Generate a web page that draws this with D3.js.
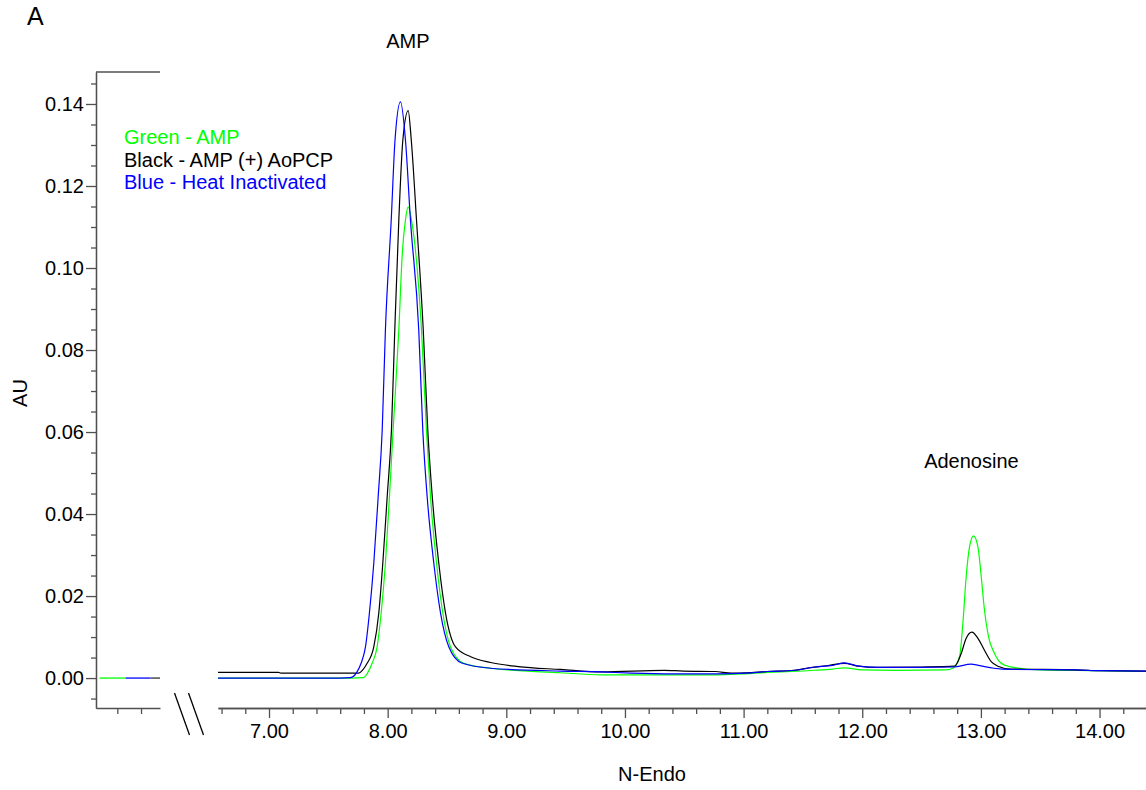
<!DOCTYPE html>
<html><head><meta charset="utf-8">
<script src="https://cdn.jsdelivr.net/npm/d3@7"></script>
<style>
body{margin:0;background:#fff;}
text{font-family:"Liberation Sans",Arial,sans-serif;}
</style>
</head><body>
<svg id="chart" width="1146" height="790"></svg>
<script>
// ---------- DATA ----------
const xMajorTicks = [7, 8, 9, 10, 11, 12, 13, 14];
const yMajorTicks = [0.00, 0.02, 0.04, 0.06, 0.08, 0.10, 0.12, 0.14];
const legendLabels = ["Green - AMP", "Black - AMP (+) AoPCP", "Blue - Heat Inactivated"];
const peakLabels = [["AMP", 8.17, 0.1537], ["Adenosine", 12.92, 0.0512]];
const xTitle = "N-Endo";
const yTitle = "AU";
const panelLetter = "A";

// [time (min), AU]
const greenSeries = [
  [6.57,0.0000],[7.70,0.0000],[7.796,0.0001],[7.83,0.0012],[7.869,0.0036],[7.911,0.0076],
  [7.945,0.0158],[7.981,0.0280],[8.015,0.0442],[8.046,0.0605],[8.094,0.0849],[8.122,0.1028],
  [8.150,0.1117],[8.173,0.1149],[8.201,0.1117],[8.285,0.0849],[8.327,0.0605],[8.361,0.0442],
  [8.412,0.0280],[8.465,0.0158],[8.530,0.0076],[8.642,0.0036],[8.867,0.0024],[9.458,0.0013],
  [9.80,0.0008],[10.80,0.0008],[11.0,0.0010],[11.2,0.0014],[11.4,0.0016],[11.6,0.0019],
  [11.75,0.0022],[11.85,0.0025],[12.0,0.0020],[12.28,0.0019],[12.70,0.0020],[12.764,0.0024],
  [12.82,0.0052],[12.848,0.0133],[12.876,0.0247],[12.904,0.0320],[12.938,0.0347],[12.975,0.0320],
  [13.003,0.0247],[13.030,0.0166],[13.064,0.0101],[13.115,0.0060],[13.171,0.0036],[13.241,0.0028],
  [13.5,0.0020],[14.0,0.0018],[14.4,0.0016]
];
const blackSeries = [
  [6.57,0.0014],[7.08,0.0014],[7.10,0.0012],[7.70,0.0012],[7.756,0.0012],[7.79,0.0020],
  [7.827,0.0036],[7.883,0.0076],[7.925,0.0158],[7.959,0.0280],[7.996,0.0442],[8.032,0.0605],
  [8.060,0.0849],[8.094,0.1117],[8.128,0.1312],[8.173,0.1384],[8.199,0.1312],[8.243,0.1117],
  [8.300,0.0849],[8.338,0.0605],[8.376,0.0442],[8.431,0.0280],[8.488,0.0158],[8.572,0.0076],
  [8.70,0.0052],[8.867,0.0038],[9.10,0.0028],[9.458,0.0021],[9.80,0.0015],[10.33,0.0019],
  [10.49,0.0017],[10.76,0.0016],[10.9,0.0012],[11.02,0.0013],[11.2,0.0016],[11.43,0.0019],
  [11.55,0.0025],[11.7,0.0030],[11.85,0.0036],[11.97,0.0029],[12.13,0.0026],[12.5,0.0027],
  [12.777,0.0029],[12.834,0.0060],[12.876,0.0097],[12.924,0.0112],[12.975,0.0097],[13.030,0.0068],
  [13.087,0.0040],[13.143,0.0029],[13.25,0.0022],[13.8,0.0020],[14.0,0.0018],[14.4,0.0017]
];
const blueSeries = [
  [6.57,0.0000],[7.60,0.0000],[7.686,0.0001],[7.742,0.0015],[7.776,0.0036],[7.813,0.0076],
  [7.846,0.0158],[7.883,0.0280],[7.920,0.0442],[7.954,0.0605],[7.981,0.0849],[8.030,0.1117],
  [8.062,0.1312],[8.108,0.1405],[8.150,0.1312],[8.192,0.1117],[8.262,0.0849],[8.296,0.0605],
  [8.333,0.0442],[8.389,0.0280],[8.446,0.0158],[8.516,0.0076],[8.629,0.0036],[8.867,0.0024],
  [9.458,0.0017],[9.80,0.0015],[10.05,0.0012],[10.40,0.0010],[10.78,0.0010],[11.02,0.0012],
  [11.2,0.0016],[11.43,0.0019],[11.6,0.0027],[11.75,0.0031],[11.85,0.0037],[11.97,0.0029],
  [12.13,0.0026],[12.50,0.0026],[12.77,0.0027],[12.918,0.0034],[12.98,0.0031],[13.11,0.0024],
  [13.25,0.0021],[13.8,0.0020],[14.0,0.0018],[14.4,0.0017]
];
// left (pre-break) segment traces
const leftGreen = [[0.05,0.0],[0.27,0.0]];
const leftBlue  = [[0.27,0.0],[0.48,0.0]];
const leftBlack = [[0.48,0.0],[0.56,0.0]];
const leftTicks = [0.2, 0.4];

const seriesColors = ["#00ff00", "#000000", "#0000ff"];

// ---------- DRAW ----------
const svg = d3.select("#chart");
const axisColor = "#505050";
const fs = 20;

const x = d3.scaleLinear().domain([6.57, 14.40]).range([218, 1147]);
const xL = d3.scaleLinear().domain([0.02, 0.56]).range([96, 160]);
const y = d3.scaleLinear().domain([-0.0073, 0.1478]).range([708, 72]);

// Y axis
const yMinor = d3.range(-0.005, 0.1451, 0.005).map(v => +v.toFixed(3))
  .filter(v => !yMajorTicks.some(m => Math.abs(m - v) < 1e-6));
const gyMinor = svg.append("g").attr("transform", "translate(96,0)")
  .call(d3.axisLeft(y).tickValues(yMinor).tickSize(5).tickSizeOuter(0).tickFormat(""));
const gy = svg.append("g").attr("transform", "translate(96,0)")
  .call(d3.axisLeft(y).tickValues(yMajorTicks).tickSize(10).tickSizeOuter(0).tickPadding(2).tickFormat(d3.format(".2f")));
[gy, gyMinor].forEach(g => {
  g.selectAll("path,line").attr("stroke", axisColor).attr("stroke-width", 1.3);
  g.selectAll("text").attr("font-size", fs).attr("fill", "#000")
    .style("font-family", '"Liberation Sans",Arial,sans-serif');
});
// top frame stub
svg.append("line").attr("x1", xL.range()[0]).attr("x2", xL.range()[1])
  .attr("y1", y.range()[1]).attr("y2", y.range()[1])
  .attr("stroke", axisColor).attr("stroke-width", 1.3);

// X axis (right segment)
const xMinor = d3.range(6.6, 14.41, 0.2).map(v => +v.toFixed(1))
  .filter(v => !xMajorTicks.some(m => Math.abs(m - v) < 1e-6));
const axisY = 708;
const gxMinor = svg.append("g").attr("transform", `translate(0,${axisY})`)
  .call(d3.axisBottom(x).tickValues(xMinor).tickSize(6).tickSizeOuter(0).tickFormat(""));
const gx = svg.append("g").attr("transform", `translate(0,${axisY})`)
  .call(d3.axisBottom(x).tickValues(xMajorTicks).tickSize(10).tickSizeOuter(0).tickPadding(6).tickFormat(d3.format(".2f")));
// X axis (left segment)
const gxL = svg.append("g").attr("transform", `translate(0,${axisY})`)
  .call(d3.axisBottom(xL).tickValues(leftTicks).tickSize(6).tickSizeOuter(0).tickFormat(""));
[gx, gxMinor, gxL].forEach(g => {
  g.selectAll("path,line").attr("stroke", axisColor).attr("stroke-width", 1.3);
  g.selectAll("text").attr("font-size", fs).attr("fill", "#000")
    .style("font-family", '"Liberation Sans",Arial,sans-serif');
});

// break marks
[0, 14].forEach(dx => {
  svg.append("line").attr("x1", 174.5 + dx).attr("y1", 693).attr("x2", 189.5 + dx).attr("y2", 735)
    .attr("stroke", "#000").attr("stroke-width", 1.3);
});

// traces
const line = d3.line().x(d => x(d[0])).y(d => y(d[1])).curve(d3.curveMonotoneX);
const lineL = d3.line().x(d => xL(d[0])).y(d => y(d[1]));
svg.append("clipPath").attr("id", "plotclip").append("rect")
  .attr("x", 218).attr("y", 60).attr("width", 930).attr("height", 648);
const plot = svg.append("g").attr("clip-path", "url(#plotclip)");
[greenSeries, blackSeries, blueSeries].forEach((s, i) => {
  plot.append("path").datum(s).attr("d", line).attr("fill", "none")
    .attr("stroke", seriesColors[i]).attr("stroke-width", 1.2).attr("stroke-linejoin", "round");
});
[leftGreen, leftBlack, leftBlue].forEach((s, i) => {
  const c = [seriesColors[0], "#303030", seriesColors[2]][i];
  svg.append("path").datum(s).attr("d", lineL).attr("fill", "none")
    .attr("stroke", c).attr("stroke-width", 1.3);
});

// legend
legendLabels.forEach((t, i) => {
  svg.append("text").attr("x", 124).attr("y", 144 + i * 22.6)
    .attr("font-size", fs).attr("fill", seriesColors[i]).text(t);
});

// peak labels
peakLabels.forEach(p => {
  svg.append("text").attr("x", x(p[1])).attr("y", y(p[2]))
    .attr("text-anchor", "middle").attr("font-size", fs).attr("fill", "#000").text(p[0]);
});

// titles
svg.append("text").attr("x", 652).attr("y", 781).attr("text-anchor", "middle")
  .attr("font-size", fs).attr("fill", "#000").text(xTitle);
svg.append("text").attr("transform", "translate(27,393) rotate(-90)").attr("text-anchor", "middle")
  .attr("font-size", fs).attr("fill", "#000").text(yTitle);
svg.append("text").attr("x", 27).attr("y", 25).attr("font-size", 25).attr("fill", "#000").text(panelLetter);
</script>
</body></html>
